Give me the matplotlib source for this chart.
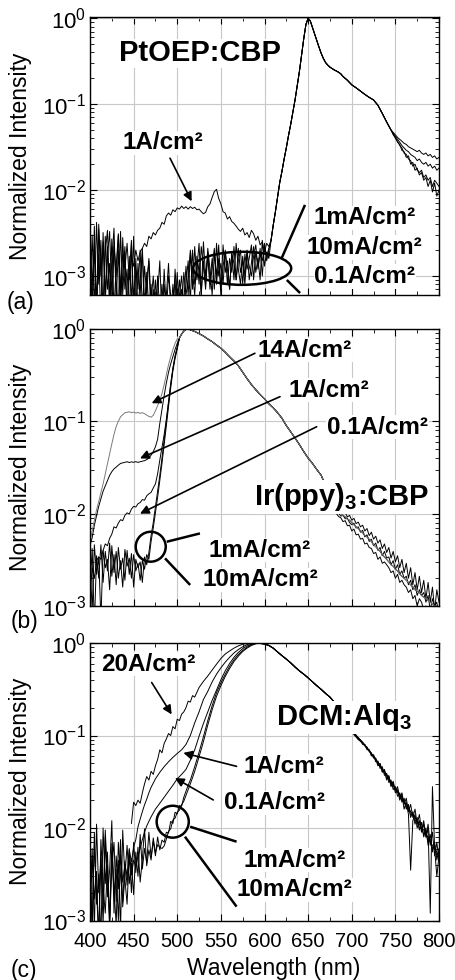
import numpy as np
import matplotlib
matplotlib.use('Agg')
import matplotlib.pyplot as plt
from matplotlib.patches import Ellipse
from matplotlib.ticker import MultipleLocator, LogLocator, NullFormatter

plt.rcParams['font.family'] = ['Liberation Sans', 'DejaVu Sans']
plt.rcParams['mathtext.fontset'] = 'custom'
plt.rcParams['mathtext.rm'] = 'Liberation Sans'
plt.rcParams['mathtext.bf'] = 'Liberation Sans:bold'
plt.rcParams['mathtext.it'] = 'Liberation Sans:italic'

# ------------------------------------------------------------------ data
# ---- panel (a) PtOEP:CBP
wl_a_blue = np.arange(400, 605.1, 2.5)          # 83 points
a_1mA_blue = [2.5, 0.4, 3.8, 0.5, 1.8, 0.3, 3.2, 0.6, 2.2, 0.4, 1.5, 3.6, 0.5, 2.0, 0.3, 2.8, 0.7, 1.2, 0.3, 2.4,
              0.5, 1.6, 0.4, 0.9, 1.9, 0.3, 1.1, 0.4, 0.8,
              0.3, 0.9, 0.4, 0.6, 0.3, 1.2, 0.4, 0.5, 0.3, 0.8, 0.4, 1.1, 0.3, 0.7, 0.5, 1.3,
              0.6, 1.8, 0.7, 2.2, 0.9, 1.4, 0.6, 2.5, 1.0, 1.7, 0.7, 1.3, 2.1, 0.8, 1.6, 0.6, 2.3, 1.1, 1.5, 0.7,
              1.9, 0.9, 2.4, 1.2, 0.8, 1.7, 1.0, 2.0, 0.9, 1.4, 2.2, 1.1, 1.6, 0.9, 2.6, 1.3, 1.9, 1.6]
a_10mA_blue = [0.6, 3.0, 0.4, 4.2, 0.8, 2.6, 0.3, 1.9, 3.4, 0.5, 2.7, 0.4, 1.3, 3.1, 0.6, 1.0, 2.2, 0.3, 1.7, 0.5,
               2.9, 0.4, 1.4, 0.6, 2.1, 0.5, 0.9, 1.5, 0.3,
               0.7, 0.3, 1.0, 0.4, 0.8, 0.3, 0.6, 1.4, 0.4, 0.5, 0.9, 0.3, 0.6, 1.0, 0.4, 0.8,
               1.5, 0.5, 2.0, 0.8, 1.2, 2.4, 0.6, 1.5, 0.8, 2.1, 1.2, 0.6, 1.8, 1.0, 2.3, 0.7, 1.3, 1.9, 0.8, 1.6,
               1.1, 2.2, 0.9, 1.5, 2.0, 0.8, 1.8, 1.2, 1.6, 2.3, 0.9, 1.9, 1.3, 2.1, 1.0, 2.4, 1.5, 2.0]
a_01A_blue = [1.5, 0.5, 2.3, 0.3, 3.5, 1.1, 0.4, 2.9, 0.7, 1.4, 0.3, 2.5, 0.9, 0.4, 3.3, 0.6, 1.9, 0.4, 1.0, 2.6,
              0.3, 1.2, 0.7, 2.0, 0.4, 1.3, 0.6, 1.6, 0.5,
              1.0, 0.4, 0.6, 1.5, 0.3, 0.8, 0.4, 1.0, 0.6, 0.3, 1.2, 0.5, 0.9, 0.4, 1.1, 0.6,
              0.9, 2.0, 1.1, 0.6, 1.7, 0.8, 2.2, 1.3, 0.7, 1.9, 0.9, 1.6, 0.7, 2.4, 1.0, 1.4, 0.8, 2.0, 1.2, 0.7,
              1.8, 1.4, 0.9, 2.1, 1.1, 1.5, 0.8, 1.9, 1.3, 1.0, 1.7, 2.3, 1.2, 1.8, 1.5, 2.2, 1.7, 2.1]
a_1A_blue = [3.0, 0.8, 2.0, 0.4, 4.0, 1.0, 2.5, 0.5, 1.7, 3.3, 0.6, 2.2, 1.0, 3.0, 0.7, 1.8, 1.2, 2.4, 0.9, 1.6,
             1.3, 2.0, 1.5, 1.9,
             2.1, 2.4, 2.2, 2.9, 2.7, 3.2, 3.0, 3.4, 3.6, 4.2, 4.0, 5.0, 5.4, 5.1, 5.9, 5.6, 6.2, 6.0, 6.5, 6.1,
             6.4, 6.0, 6.4, 6.1, 6.3, 5.9, 6.0, 5.6, 5.3, 5.5, 6.4, 6.9, 8.2, 9.6, 10.2, 8.0, 6.9, 5.6, 5.4, 4.6,
             4.9, 4.3, 4.1, 3.8, 3.5, 3.3, 3.6, 3.0, 3.2, 2.8, 3.4, 3.1, 2.6, 2.9, 2.3, 2.5, 1.9, 2.4, 2.2]
blue_unit = 1e-3
wl_a_peak = [607.5, 610, 612.5, 615, 617.5, 620, 622.5, 625, 627.5, 630, 632.5, 635, 637.5, 640, 642.5, 645,
             647.5, 650, 652.5, 655, 657.5, 660, 662.5, 665, 667.5, 670, 672.5, 675, 677.5, 680, 682.5, 685,
             687.5, 690, 695, 700, 705, 710, 715, 720, 725, 730, 735, 740, 745]
a_peak = [2.6e-3, 3.9e-3, 5.6e-3, 8.3e-3, 0.0123, 0.0165, 0.023, 0.031, 0.043, 0.058, 0.08, 0.112, 0.165, 0.24,
          0.37, 0.58, 0.85, 1.0, 0.93, 0.78, 0.66, 0.55, 0.46, 0.39, 0.34, 0.305, 0.285, 0.27, 0.26, 0.25, 0.243,
          0.235, 0.225, 0.21, 0.19, 0.168, 0.155, 0.142, 0.13, 0.12, 0.112, 0.097, 0.078, 0.062, 0.05]
wl_a_tail = np.arange(747.5, 800.1, 2.5)        # 22 points
a_1A_tail = [0.047, 0.044, 0.041, 0.039, 0.037, 0.035, 0.034, 0.032, 0.031, 0.03, 0.029, 0.028, 0.029, 0.027,
             0.026, 0.027, 0.025, 0.026, 0.024, 0.025, 0.023, 0.024]
a_01A_tail = [0.046, 0.042, 0.039, 0.036, 0.033, 0.031, 0.029, 0.028, 0.026, 0.025, 0.024, 0.022, 0.023, 0.021,
              0.02, 0.021, 0.019, 0.02, 0.018, 0.019, 0.017, 0.018]
a_10mA_tail = [0.045, 0.04, 0.037, 0.033, 0.031, 0.027, 0.026, 0.023, 0.022, 0.019, 0.02, 0.017, 0.016, 0.017,
               0.014, 0.015, 0.013, 0.014, 0.011, 0.013, 0.012, 0.011]
a_1mA_tail = [0.044, 0.041, 0.036, 0.034, 0.029, 0.028, 0.024, 0.025, 0.02, 0.021, 0.017, 0.018, 0.015, 0.016,
              0.013, 0.014, 0.011, 0.013, 0.0095, 0.012, 0.0085, 0.01]

# ---- panel (b) Ir(ppy)3:CBP
wl_b_left = np.arange(400, 500.1, 2.5)          # 41 points
b_1mA_left = [1.5e-3, 4.2e-3, 0.6e-3, 3.5e-3, 2.0e-3, 4.6e-3, 1.8e-3, 3.9e-3, 2.4e-3, 4.8e-3, 2.1e-3, 3.6e-3,
              1.7e-3, 4.3e-3, 2.5e-3, 3.3e-3, 1.9e-3, 4.0e-3, 2.2e-3, 3.7e-3, 1.6e-3, 3.2e-3, 2.6e-3, 3.0e-3,
              1.8e-3, 3.4e-3, 2.8e-3, 3.8e-3,
              5.8e-3, 8.0e-3, 0.0118, 0.0172, 0.026, 0.04, 0.063, 0.1, 0.16, 0.25, 0.37, 0.5, 0.63]
b_10mA_left = [3.0e-3, 0.9e-3, 4.6e-3, 2.2e-3, 3.4e-3, 0.7e-3, 4.0e-3, 2.6e-3, 3.2e-3, 1.5e-3, 4.5e-3, 2.3e-3,
               3.9e-3, 2.0e-3, 3.1e-3, 1.6e-3, 4.1e-3, 2.7e-3, 3.3e-3, 2.0e-3, 3.6e-3, 2.4e-3, 2.9e-3, 1.9e-3,
               3.1e-3, 2.5e-3, 3.6e-3, 3.2e-3,
               5.0e-3, 7.0e-3, 0.0103, 0.015, 0.023, 0.035, 0.056, 0.09, 0.145, 0.23, 0.35, 0.48, 0.61]
b_01A_left = [1.3e-3, 2.6e-3, 2.0e-3, 3.1e-3, 3.4e-3, 3.2e-3, 4.0e-3, 4.7e-3, 4.5e-3, 5.4e-3, 6.0e-3, 7.2e-3,
              7.0e-3, 7.9e-3, 8.6e-3, 8.4e-3, 9.6e-3, 0.0102, 9.9e-3, 0.0112, 0.012, 0.0118, 0.0128, 0.0132,
              0.0142, 0.014, 0.0156, 0.0164, 0.017, 0.019, 0.021, 0.027, 0.038,
              0.052, 0.072, 0.105, 0.165, 0.255, 0.375, 0.51, 0.64]
b_1A_left = [4.5e-3, 5.5e-3, 7.5e-3, 9.5e-3, 0.012, 0.0145, 0.0175, 0.02, 0.023, 0.026, 0.0285, 0.0305, 0.032,
             0.0335, 0.035, 0.0355, 0.036, 0.0365, 0.0358, 0.0364, 0.036, 0.0366, 0.0359, 0.0365, 0.037, 0.0375,
             0.0385, 0.04, 0.043, 0.047, 0.053, 0.064, 0.095,
             0.135, 0.19, 0.26, 0.34, 0.42, 0.5, 0.6, 0.7]
b_14A_left = [5.0e-3, 6.5e-3, 8.5e-3, 0.011, 0.0135, 0.017, 0.021, 0.027, 0.035, 0.045, 0.057, 0.072, 0.088, 0.1,
              0.112, 0.118, 0.124, 0.125, 0.127, 0.124, 0.126, 0.123, 0.125, 0.122, 0.124, 0.121, 0.117, 0.113,
              0.111, 0.116, 0.13, 0.148, 0.17, 0.2, 0.25, 0.32, 0.41, 0.5, 0.6, 0.7, 0.78]
wl_b_main = [502.5, 505, 507.5, 510, 512.5, 515, 520, 525, 530, 535, 540, 545, 550, 555, 560, 565, 570, 575, 580,
             585, 590, 595, 600, 605, 610, 615, 620, 625, 630, 635, 640, 645, 650, 655, 660, 665, 670, 675, 680]
b_main = [0.8, 0.88, 0.95, 0.99, 1.0, 0.98, 0.94, 0.89, 0.84, 0.78, 0.73, 0.67, 0.62, 0.56, 0.5, 0.45, 0.4, 0.34,
          0.29, 0.25, 0.22, 0.195, 0.175, 0.155, 0.14, 0.124, 0.108, 0.09, 0.077, 0.066, 0.056, 0.047, 0.04,
          0.035, 0.03, 0.026, 0.02, 0.0155, 0.012]
wl_b_tail = np.arange(682.5, 800.1, 2.5)        # 48 points
tail_unit = 1e-3
b_1mA_tail = [11.5, 10.8, 11.0, 10.0, 10.3, 9.2, 9.6, 8.5, 8.9, 7.8, 8.1, 7.2, 7.5, 6.5, 6.9, 5.8, 6.3, 5.3, 5.7,
              4.8, 5.2, 4.2, 4.7, 3.8, 4.3, 3.3, 3.9, 3.0, 3.5, 2.6, 3.2, 2.3, 2.9, 2.0, 2.6, 1.7, 2.3, 1.5, 2.1,
              1.4, 1.9, 1.2, 1.8, 1.1, 1.6, 0.9, 1.5, 1.1]
b_10mA_tail = [10.5, 10.1, 9.4, 9.6, 8.8, 8.9, 8.0, 7.6, 7.9, 7.0, 7.2, 6.3, 6.6, 5.6, 5.9, 5.0, 5.3, 4.5, 4.8,
               4.0, 4.3, 3.5, 3.9, 3.3, 3.4, 2.8, 3.1, 2.5, 2.8, 2.2, 2.4, 2.0, 2.1, 1.7, 1.9, 1.5, 1.7, 1.3, 1.5,
               1.3, 1.4, 1.1, 1.3, 0.9, 1.2, 1.0, 1.1, 0.8]
b_01A_tail = [10.0, 9.3, 9.0, 8.2, 8.4, 7.4, 7.5, 6.5, 6.8, 5.9, 6.0, 5.3, 5.4, 4.7, 4.8, 4.3, 4.2, 3.7, 3.8, 3.2,
              3.4, 2.9, 3.0, 2.8, 2.6, 2.3, 2.4, 2.0, 2.2, 1.8, 1.9, 1.7, 1.6, 1.4, 1.5, 1.2, 1.3, 1.0, 1.2, 1.1,
              0.9, 1.0, 0.8, 0.95, 0.7, 0.9, 0.65, 0.8]
b_1A_tail = [11.0, 10.5, 10.2, 9.5, 9.3, 8.7, 8.5, 8.0, 7.6, 7.2, 6.9, 6.5, 6.2, 5.8, 5.6, 5.3, 5.0, 4.6, 4.4,
             4.1, 3.9, 3.6, 3.4, 3.2, 3.0, 2.8, 2.7, 2.5, 2.4, 2.2, 2.1, 2.0, 1.9, 1.8, 1.7, 1.6, 1.5, 1.45, 1.4,
             1.3, 1.25, 1.2, 1.15, 1.1, 1.05, 1.0, 1.0, 0.95]

# ---- panel (c) DCM:Alq3
wl_c_blue1 = np.arange(400, 482.6, 2.5)         # 34 points
c_1mA_blue = [1.5, 6.0, 0.8, 11.0, 2.0, 4.5, 0.9, 8.0, 1.8, 3.5, 12.0, 1.2, 5.0, 2.2, 7.5, 1.4, 3.0, 6.5, 2.5,
              4.2, 1.9, 5.5, 3.0, 8.5, 3.6, 6.0, 4.2, 9.0, 4.8, 7.2, 5.0, 8.0, 5.8, 7.4]
c_10mA_blue = [4.0, 0.7, 9.0, 1.5, 3.2, 0.6, 10.0, 2.5, 5.5, 0.9, 3.8, 7.0, 1.6, 4.5, 0.8, 9.5, 2.8, 1.5, 5.2,
               2.0, 7.0, 3.3, 6.2, 2.6, 4.6, 9.8, 3.9, 5.8, 4.5, 7.8, 5.4, 6.6, 6.2, 6.0]
wl_c_rise = [485, 487.5, 490, 492.5, 495, 497.5, 500, 502.5, 505, 507.5, 510, 512.5, 515, 517.5, 520, 522.5, 525,
             527.5, 530, 535, 540, 545, 550, 555, 560, 565, 570, 575, 580, 585, 590, 595, 600]
c_1mA_rise = [7.0e-3, 9.0e-3, 8.8e-3, 0.0118, 0.0112, 0.0148, 0.0142, 0.0175, 0.0172, 0.0215, 0.025, 0.029,
              0.033, 0.039, 0.046, 0.055, 0.066, 0.08, 0.097, 0.145, 0.21, 0.29, 0.37, 0.46, 0.56, 0.66, 0.75,
              0.83, 0.9, 0.96, 0.99, 1.0, 0.98]
c_10mA_rise = [6.4e-3, 7.6e-3, 9.2e-3, 9.8e-3, 0.0122, 0.0128, 0.0148, 0.0156, 0.0178, 0.0195, 0.0225, 0.026,
               0.03, 0.035, 0.041, 0.049, 0.059, 0.071, 0.086, 0.13, 0.19, 0.265, 0.345, 0.435, 0.53, 0.63, 0.72,
               0.81, 0.88, 0.94, 0.98, 1.0, 0.985]
wl_c_blue01 = np.arange(400, 455.1, 2.5)        # 23 points
c_01A_blue = [3.5, 1.0, 6.5, 2.0, 0.7, 4.8, 1.5, 9.5, 2.8, 1.1, 5.5, 2.2, 0.9, 7.0, 3.0, 1.6, 4.4, 2.4, 6.0, 3.1,
              4.5, 3.8, 5.0]
wl_c_01A = [457.5, 460, 462.5, 465, 467.5, 470, 475, 480, 485, 490, 495, 500, 505, 510, 515, 520, 525, 530, 535,
            540, 545, 550, 555, 560, 565, 570, 575, 580, 585, 590, 595, 600]
c_01A = [6.0e-3, 7.5e-3, 9.0e-3, 0.0105, 0.0118, 0.0132, 0.016, 0.0185, 0.0215, 0.025, 0.029, 0.034, 0.038, 0.043,
         0.054, 0.07, 0.098, 0.135, 0.18, 0.24, 0.31, 0.4, 0.5, 0.6, 0.7, 0.79, 0.87, 0.93, 0.97, 1.0, 0.995, 0.98]
wl_c_blue1A = np.arange(400, 450.1, 2.5)        # 21 points
c_1A_blue = [0.9, 5.0, 1.7, 3.4, 0.6, 7.5, 2.3, 1.2, 4.0, 0.8, 6.8, 1.9, 3.6, 1.0, 5.2, 2.6, 4.1, 3.0, 5.8, 4.3,
             6.2]
wl_c_1A = [452.5, 455, 457.5, 460, 462.5, 465, 467.5, 470, 475, 480, 485, 490, 495, 500, 505, 510, 515, 520, 525,
           530, 535, 540, 545, 550, 555, 560, 565, 570, 575, 580, 585, 590, 595, 600]
c_1A = [7.5e-3, 0.0103, 0.0125, 0.015, 0.0178, 0.0205, 0.024, 0.0275, 0.034, 0.04, 0.046, 0.052, 0.058, 0.064,
        0.07, 0.08, 0.1, 0.137, 0.18, 0.245, 0.3, 0.38, 0.46, 0.54, 0.62, 0.7, 0.78, 0.85, 0.91, 0.96, 0.99, 1.0,
        0.99, 0.97]
wl_c_20A = list(np.arange(447.5, 520.1, 2.5)) + [525, 530, 535, 540, 545, 550, 555, 560, 565, 570, 575, 580, 585,
                                                 590, 595, 600]
c_20A = [0.0112, 0.019, 0.0175, 0.02, 0.0185, 0.024, 0.03, 0.036, 0.033, 0.041, 0.038, 0.047, 0.055, 0.07, 0.065,
         0.082, 0.092, 0.105, 0.1, 0.125, 0.118, 0.15, 0.145, 0.17, 0.18, 0.2, 0.235, 0.23, 0.27, 0.26,
         0.33, 0.385, 0.44, 0.51, 0.59, 0.68, 0.76, 0.82, 0.88, 0.93, 0.97, 0.99, 1.0, 1.0, 0.99, 0.97]
wl_c_main = [605, 610, 615, 620, 625, 630, 635, 640, 645, 650, 655, 660, 665, 670, 675, 680, 685, 690, 695, 700]
c_main = [0.94, 0.88, 0.8, 0.73, 0.67, 0.61, 0.55, 0.5, 0.46, 0.42, 0.38, 0.345, 0.315, 0.285, 0.26, 0.23, 0.2,
          0.175, 0.152, 0.13]
wl_c_tail = np.arange(702.5, 800.1, 2.5)        # 40 points
c_1mA_tail = [104, 98, 92, 86, 84, 77, 74, 68, 64, 58, 57, 48, 50, 41, 42, 34, 37, 29, 32, 25, 28, 21, 24, 18, 21,
              15, 18, 13, 16, 11, 14, 9.5, 12, 8, 11, 6.5, 9, 5, 7, 4.5]
c_10mA_tail = [102, 96, 90, 88, 80, 79, 70, 70, 60, 62, 52, 53, 44, 46, 37, 39, 31, 33, 26, 28, 22, 24, 19, 21, 16,
               18, 13, 15, 11, 13, 9.5, 11.5, 8, 10, 6.5, 8.5, 5.5, 7, 4.5, 6]
c_01A_tail = [106, 100, 93, 90, 82, 80, 72, 70, 63, 60, 55, 51, 48, 43, 41, 37, 35, 31, 29, 27, 25, 23, 21, 19,
              18, 17, 15, 14, 13, 12, 11, 10, 9.5, 8.5, 8, 7, 6.5, 6, 5.5, 5]
c_1A_tail = [108, 101, 95, 89, 85, 78, 75, 67, 65, 57, 56, 47, 49, 40, 43, 33, 36, 28, 31, 24, 26, 20, 23, 16, 19,
             14, 3.5, 12, 14, 10, 12, 9, 11, 8, 10, 1.2, 28, 6, 3, 5]
c_20A_tail = [105, 99, 94, 87, 83, 79, 73, 69, 62, 61, 53, 52, 46, 44, 39, 38, 33, 32, 28, 27, 24, 23, 20, 19.5,
              17, 16.5, 14, 14, 12, 12, 10, 10, 8.5, 9, 7, 7.5, 6, 6.5, 5, 5.5]

x_ticks_major = 50
x_ticks_minor = 25

# ------------------------------------------------------------------ figure
W, H = 455, 980
fig = plt.figure(figsize=(W / 100, H / 100), dpi=100)


def add_ax(top, bottom):
    return fig.add_axes([90 / W, 1 - bottom / H, 349 / W, (bottom - top) / H])


ax_a = add_ax(17, 295)
ax_b = add_ax(329, 606)
ax_c = add_ax(643, 920.5)


def style(ax, ylim, show_x):
    ax.set_yscale('log')
    ax.set_xlim(400, 800)
    ax.set_ylim(*ylim)
    ax.xaxis.set_major_locator(MultipleLocator(x_ticks_major))
    ax.xaxis.set_minor_locator(MultipleLocator(x_ticks_minor))
    ax.yaxis.set_major_locator(LogLocator(base=10, numticks=10))
    ax.yaxis.set_minor_locator(LogLocator(base=10, subs=np.arange(2, 10), numticks=10))
    ax.yaxis.set_minor_formatter(NullFormatter())
    ax.grid(True, which='major', color='#c8c8c8', lw=0.8)
    ax.set_axisbelow(True)
    ax.tick_params(which='both', direction='in', top=True, right=True)
    ax.tick_params(which='major', length=5, width=0.8)
    ax.tick_params(which='minor', length=3, width=0.6)
    ax.tick_params(axis='y', labelsize=16, pad=3)
    ax.tick_params(axis='x', labelsize=14.5, pad=8)
    if not show_x:
        ax.tick_params(labelbottom=False)
    for s in ax.spines.values():
        s.set_linewidth(1.0)
    ax.set_ylabel('Normalized Intensity', fontsize=16.5)
    ax.yaxis.set_label_coords(-0.165, 0.5)


style(ax_a, (6.0e-4, 1.035), False)
style(ax_b, (1e-3, 1.0), False)
style(ax_c, (1e-3, 1.0), True)

LW = 0.7
cat = np.concatenate

# panel a curves
for blue, tail in [(a_1mA_blue, a_1mA_tail), (a_10mA_blue, a_10mA_tail),
                   (a_01A_blue, a_01A_tail), (a_1A_blue, a_1A_tail)]:
    wl = cat([wl_a_blue, wl_a_peak, wl_a_tail])
    y = cat([np.array(blue) * blue_unit, a_peak, tail])
    ax_a.plot(wl, y, color='k', lw=LW, zorder=2)

# panel b curves
for left, tail, col in [(b_1mA_left, b_1mA_tail, 'k'), (b_10mA_left, b_10mA_tail, 'k'),
                        (b_01A_left, b_01A_tail, 'k'), (b_1A_left, b_1A_tail, 'k'),
                        (b_14A_left, b_1A_tail, '#7a7a7a')]:
    wl = cat([wl_b_left, wl_b_main, wl_b_tail])
    y = cat([left, b_main, np.array(tail) * tail_unit])
    ax_b.plot(wl, y, color=col, lw=LW, zorder=2)

# panel c curves
c_sets = [
    ([wl_c_blue1, wl_c_rise], [np.array(c_1mA_blue) * blue_unit, c_1mA_rise], c_1mA_tail),
    ([wl_c_blue1, wl_c_rise], [np.array(c_10mA_blue) * blue_unit, c_10mA_rise], c_10mA_tail),
    ([wl_c_blue01, wl_c_01A], [np.array(c_01A_blue) * blue_unit, c_01A], c_01A_tail),
    ([wl_c_blue1A, wl_c_1A], [np.array(c_1A_blue) * blue_unit, c_1A], c_1A_tail),
    ([wl_c_20A], [c_20A], c_20A_tail),
]
for wls, ys, tail in c_sets:
    wl = cat(wls + [wl_c_main, wl_c_tail])
    y = cat(ys + [c_main, np.array(tail) * tail_unit])
    ax_c.plot(wl, y, color='k', lw=LW, zorder=2)

# ------------------------------------------------------------------ annotations
box = dict(facecolor='white', edgecolor='none', pad=0.6)
ANN = 17.5
TITLE = 21


def label(ax, x, y, s, size=ANN, coords='data'):
    tr = ax.transData if coords == 'data' else ax.transAxes
    ax.text(x, y, s, transform=tr, fontsize=size, fontweight='bold', ha='center', va='center',
            zorder=6, bbox=box)


def arrow(ax, head, tail, lw=1.2):
    ax.annotate('', xy=head, xytext=tail, xycoords='data', textcoords='data',
                arrowprops=dict(arrowstyle='-|>', color='k', lw=lw, mutation_scale=13,
                                shrinkA=0, shrinkB=0), zorder=7)


def seg(ax, p0, p1, lw=1.8):
    ax.plot([p0[0], p1[0]], [p0[1], p1[1]], transform=ax.transAxes, color='k', lw=lw,
            solid_capstyle='butt', zorder=7, clip_on=False)


def ring(ax, cx, cy, w, h, lw=1.8):
    ax.add_patch(Ellipse((cx, cy), w, h, transform=ax.transAxes, fill=False, ec='k', lw=lw, zorder=7))


# (a)
label(ax_a, 526, 0.39, 'PtOEP:CBP', size=TITLE)
label(ax_a, 484, 0.0355, '1A/cm²')
arrow(ax_a, (516.5, 7.4e-3), (491.7, 0.0235))
label(ax_a, 715, 4.76e-3, '1mA/cm²')
label(ax_a, 715, 2.14e-3, '10mA/cm²')
label(ax_a, 715, 9.8e-4, '0.1A/cm²')
ring(ax_a, 0.436, 0.096, 0.281, 0.119)
seg(ax_a, (0.549, 0.132), (0.616, 0.324))
seg(ax_a, (0.564, 0.054), (0.602, 0.007))

# (b)
label(ax_b, 646.4, 0.592, '14A/cm²')
label(ax_b, 673.3, 0.218, '1A/cm²')
label(ax_b, 729.5, 0.0867, '0.1A/cm²')
arrow(ax_b, (470.7, 0.157), (589, 0.546))
arrow(ax_b, (457.3, 0.0397), (617.8, 0.185))
arrow(ax_b, (457.3, 0.0100), (659.8, 0.0874))
label(ax_b, 688.8, 0.0151, r'Ir(ppy)$_\mathbf{3}$:CBP', size=TITLE)
ring(ax_b, 0.174, 0.214, 0.086, 0.108)
seg(ax_b, (0.220, 0.232), (0.315, 0.262))
seg(ax_b, (0.215, 0.172), (0.287, 0.076))
label(ax_b, 0.487, 0.202, '1mA/cm²', coords='axes')
label(ax_b, 0.487, 0.094, '10mA/cm²', coords='axes')

# (c)
label(ax_c, 467, 0.59, '20A/cm²')
arrow(ax_c, (493.6, 0.169), (470.7, 0.374))
label(ax_c, 690.5, 0.157, r'DCM:Alq$_\mathbf{3}$', size=TITLE)
label(ax_c, 622.3, 0.046, '1A/cm²')
arrow(ax_c, (507, 0.0649), (568, 0.0464))
label(ax_c, 611.5, 0.0187, '0.1A/cm²')
arrow(ax_c, (497.4, 0.0347), (541.3, 0.0201))
ring(ax_c, 0.237, 0.356, 0.092, 0.115)
seg(ax_c, (0.287, 0.338), (0.420, 0.284))
seg(ax_c, (0.272, 0.302), (0.420, 0.050))
label(ax_c, 0.587, 0.218, '1mA/cm²', coords='axes')
label(ax_c, 0.587, 0.110, '10mA/cm²', coords='axes')

# panel tags and x label
fig.text(21 / W, 1 - 302 / H, '(a)', fontsize=16.5, ha='center', va='center')
fig.text(24 / W, 1 - 621 / H, '(b)', fontsize=16.5, ha='center', va='center')
fig.text(24 / W, 1 - 970 / H, '(c)', fontsize=16.5, ha='center', va='center')
fig.text(274 / W, 1 - 968 / H, 'Wavelength (nm)', fontsize=16.5, ha='center', va='center')

fig.savefig('out.png', dpi=100)
